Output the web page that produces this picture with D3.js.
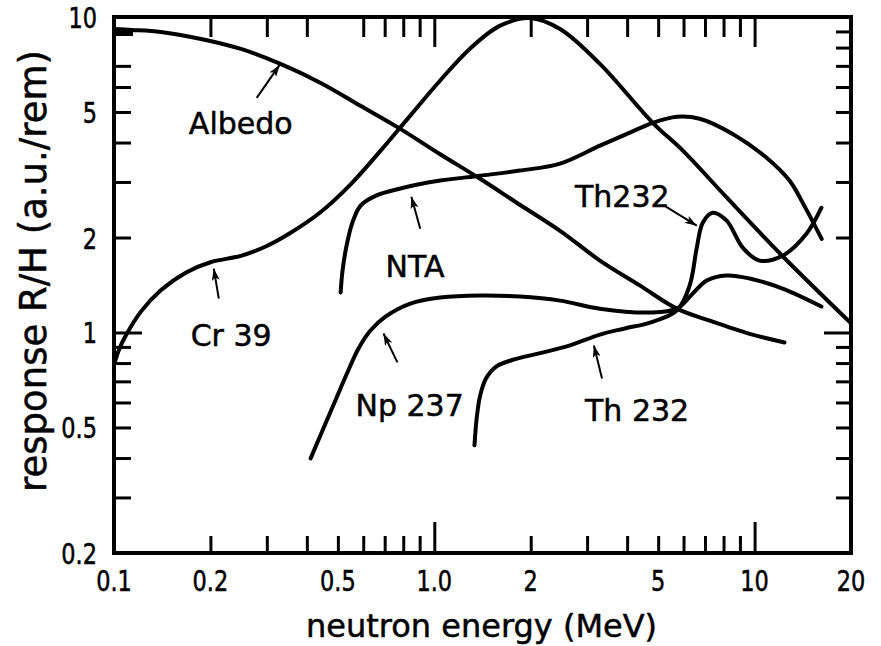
<!DOCTYPE html>
<html>
<head>
<meta charset="utf-8">
<script src="https://cdn.jsdelivr.net/npm/d3@7"></script>
<style>
  body { margin: 0; background: #fff; }
  svg { display: block; }
</style>
</head>
<body>
<svg id="chart" width="881" height="646"></svg>
<script>
// Detector response per unit dose equivalent vs. neutron energy (log-log)

// [energy MeV, response]
const albedo = [[0.1, 9.16], [0.113, 9.10], [0.140, 8.97], [0.187, 8.52], [0.249, 7.92], [0.331, 7.10],
  [0.442, 6.18], [0.588, 5.23], [0.783, 4.42], [1.04, 3.68], [1.39, 3.07], [1.85, 2.54], [2.47, 2.10],
  [3.29, 1.69], [4.38, 1.41], [5.72, 1.19], [7.24, 1.09], [9.65, 0.99], [12.4, 0.93]];

const cr39 = [[0.1, 0.79], [0.104, 0.89], [0.109, 0.98], [0.121, 1.16], [0.14, 1.36], [0.168, 1.55],
  [0.2, 1.67], [0.249, 1.75], [0.30, 1.88], [0.356, 2.07], [0.44, 2.40], [0.55, 2.96], [0.68, 3.77],
  [0.84, 4.86], [1.04, 6.27], [1.29, 7.92], [1.6, 9.37], [1.99, 9.93], [2.47, 9.16], [3.29, 7.10],
  [4.81, 4.62], [5.97, 3.77], [8.18, 2.68], [12.0, 1.78], [20, 1.07]];

const nta = [[0.51, 1.34], [0.517, 1.57], [0.532, 1.88], [0.555, 2.23], [0.588, 2.52], [0.655, 2.71],
  [0.783, 2.86], [1.044, 3.03], [1.39, 3.14], [1.85, 3.26], [2.47, 3.43], [3.29, 3.91], [4.08, 4.30],
  [4.81, 4.62], [5.72, 4.83], [6.74, 4.76], [8.54, 4.26], [10.9, 3.58], [12.85, 3.03], [14.3, 2.52],
  [16.2, 1.98]];

const np237 = [[0.411, 0.399], [0.448, 0.490], [0.488, 0.600], [0.532, 0.736], [0.580, 0.890],
  [0.632, 1.015], [0.704, 1.123], [0.842, 1.235], [1.044, 1.29], [1.39, 1.31], [1.85, 1.30],
  [2.47, 1.262], [3.29, 1.19], [4.71, 1.157], [5.72, 1.19], [6.41, 1.328], [7.09, 1.461],
  [8.18, 1.516], [9.65, 1.483], [12.23, 1.378], [16.17, 1.209]];

const th232 = [[1.335, 0.439], [1.355, 0.530], [1.391, 0.632], [1.45, 0.715], [1.56, 0.780],
  [1.75, 0.818], [2.139, 0.86], [2.653, 0.91], [3.289, 0.985], [3.936, 1.03], [4.71, 1.075],
  [5.715, 1.174], [6.27, 1.409], [6.60, 1.858], [6.89, 2.228], [7.40, 2.397], [8.18, 2.262],
  [9.18, 1.858], [10.36, 1.69], [12.23, 1.752], [14.52, 2.057], [16.17, 2.486]];

const curves = [albedo, cr39, nta, np237, th232];

// curve labels: text, anchor point [E, R]
const labelTexts = ["Albedo", "Cr 39", "NTA", "Np 237", "Th 232", "Th232"];
const labelAt = [[0.1713, 4.26], [0.1735, 0.903], [0.704, 1.504], [0.5675, 0.542], [2.955, 0.523], [2.75, 2.504]];

// pointer arrows: [tail, head] in [E, R]
const arrows = [
  [[0.279, 5.54], [0.329, 7.05]],
  [[0.2124, 1.281], [0.2049, 1.594]],
  [[0.904, 2.133], [0.848, 2.695]],
  [[0.767, 0.804], [0.694, 0.993]],
  [[3.34, 0.715], [3.15, 0.910]],
  [[5.24, 2.52], [6.60, 2.18]]
];

// axis ticks
const xTickLabels = ["0.1", "0.2", "0.5", "1.0", "2", "5", "10", "20"];
const xTickValues = [0.1, 0.2, 0.5, 1, 2, 5, 10, 20];
const yTickLabels = ["0.2", "0.5", "1", "2", "5", "10"];
const yTickValues = [0.2, 0.5, 1, 2, 5, 10];
const minorBottom = [0.2, 0.3, 0.4, 0.5, 0.6, 0.7, 0.8, 0.9, 2, 3, 4, 5, 6, 7, 8, 9];
const minorTop = [0.2, 0.3, 0.4, 0.6, 0.7, 0.8, 0.9, 2, 3, 4, 5, 6, 7, 8, 9];
const majorX = [1, 10];
const minorLeft = [0.3, 0.4, 0.5, 0.6, 0.7, 0.8, 0.9, 2, 3, 4, 5, 6, 7];
const minorRight = [0.3, 0.4, 0.5, 0.6, 0.7, 0.8, 0.9, 2, 3, 4, 5, 6, 7, 8, 9];
const majorY = [1];

const xTitle = "neutron energy (MeV)";
const yTitle = "response R/H (a.u./rem)";

const frame = { left: 114, right: 851, top: 17, bottom: 553 };
const svg = d3.select("#chart");
svg.append("rect").attr("width", 881).attr("height", 646).attr("fill", "#fff");

const x = d3.scaleLog().domain([0.1, 20]).range([frame.left, frame.right]);
const y = d3.scaleLog().domain([0.2, 10]).range([frame.bottom, frame.top]);

const ink = "#000";
const numFont = "'DejaVu Sans Condensed', 'DejaVu Sans', sans-serif";
const textFont = "'DejaVu Sans', sans-serif";

// ticks drawn inward with d3 axes, one per side
function tickAxis(axisFn, scale, values, len) {
  return axisFn(scale).tickValues(values).tickSize(-len).tickFormat("");
}
function drawAxis(g, ax, w) {
  g.call(ax);
  g.select(".domain").remove();
  g.selectAll(".tick line").attr("stroke", ink).attr("stroke-width", w);
}
const B = frame.bottom, T = frame.top, L = frame.left, R = frame.right;
drawAxis(svg.append("g").attr("transform", `translate(0,${B})`), tickAxis(d3.axisBottom, x, minorBottom, 17), 3);
drawAxis(svg.append("g").attr("transform", `translate(0,${B})`), tickAxis(d3.axisBottom, x, majorX, 31), 3);
drawAxis(svg.append("g").attr("transform", `translate(0,${T})`), tickAxis(d3.axisTop, x, minorTop, 20), 3);
drawAxis(svg.append("g").attr("transform", `translate(0,${T})`), tickAxis(d3.axisTop, x, majorX, 30), 3);
drawAxis(svg.append("g").attr("transform", `translate(${L},0)`), tickAxis(d3.axisLeft, y, minorLeft, 17), 3);
drawAxis(svg.append("g").attr("transform", `translate(${L},0)`), tickAxis(d3.axisLeft, y, majorY, 28), 3);
drawAxis(svg.append("g").attr("transform", `translate(${R},0)`), tickAxis(d3.axisRight, y, minorRight, 15), 3);
drawAxis(svg.append("g").attr("transform", `translate(${R},0)`), tickAxis(d3.axisRight, y, majorY, 27), 3);

// frame
svg.append("rect")
  .attr("x", L).attr("y", T).attr("width", R - L).attr("height", B - T)
  .attr("fill", "none").attr("stroke", ink).attr("stroke-width", 4);

// tick labels (narrowed numerals)
svg.append("g").selectAll("text").data(xTickValues).join("text")
  .attr("transform", d => `translate(${x(d)},591) scale(0.86,1)`)
  .attr("text-anchor", "middle")
  .attr("font-family", numFont).attr("font-size", 29).attr("fill", ink)
  .attr("stroke", ink).attr("stroke-width", 0.5)
  .text((d, i) => xTickLabels[i]);

svg.append("g").selectAll("text").data(yTickValues).join("text")
  .attr("transform", d => `translate(97,${y(d) + 11}) scale(0.86,1)`)
  .attr("text-anchor", "end")
  .attr("font-family", numFont).attr("font-size", 29).attr("fill", ink)
  .attr("stroke", ink).attr("stroke-width", 0.5)
  .text((d, i) => yTickLabels[i]);

// axis titles
svg.append("text")
  .attr("x", (L + R) / 2 - 1).attr("y", 637)
  .attr("text-anchor", "middle")
  .attr("font-family", textFont).attr("font-size", 32).attr("fill", ink)
  .attr("stroke", ink).attr("stroke-width", 0.5)
  .text(xTitle);

svg.append("text")
  .attr("transform", `translate(46,${271}) rotate(-90)`)
  .attr("text-anchor", "middle")
  .attr("font-family", textFont).attr("font-size", 37).attr("fill", ink)
  .attr("stroke", ink).attr("stroke-width", 0.5)
  .text(yTitle);

// response curves
const line = d3.line().x(d => x(d[0])).y(d => y(d[1])).curve(d3.curveCatmullRom.alpha(0.5));
svg.append("g").selectAll("path").data(curves).join("path")
  .attr("d", line)
  .attr("fill", "none").attr("stroke", ink).attr("stroke-width", 4)
  .attr("stroke-linecap", "round").attr("stroke-linejoin", "round");

// thick start of the albedo curve
svg.append("rect")
  .attr("x", x(albedo[0][0])).attr("y", y(albedo[0][1]) - 1)
  .attr("width", 19).attr("height", 8).attr("fill", ink);

// arrows
svg.append("defs").append("marker")
  .attr("id", "head").attr("viewBox", "0 0 12 8")
  .attr("refX", 12).attr("refY", 4)
  .attr("markerWidth", 12).attr("markerHeight", 8)
  .attr("markerUnits", "userSpaceOnUse").attr("orient", "auto")
  .append("path").attr("d", "M0,0 L12,4 L0,8 L3,4 Z").attr("fill", ink);

svg.append("g").selectAll("line").data(arrows).join("line")
  .attr("x1", d => x(d[0][0])).attr("y1", d => y(d[0][1]))
  .attr("x2", d => x(d[1][0])).attr("y2", d => y(d[1][1]))
  .attr("stroke", ink).attr("stroke-width", 2)
  .attr("marker-end", "url(#head)");

// curve labels
svg.append("g").selectAll("text").data(labelAt).join("text")
  .attr("x", d => x(d[0])).attr("y", d => y(d[1]))
  .attr("font-family", textFont).attr("font-size", 30).attr("fill", ink)
  .attr("stroke", ink).attr("stroke-width", 0.5)
  .text((d, i) => labelTexts[i]);
</script>
</body>
</html>
